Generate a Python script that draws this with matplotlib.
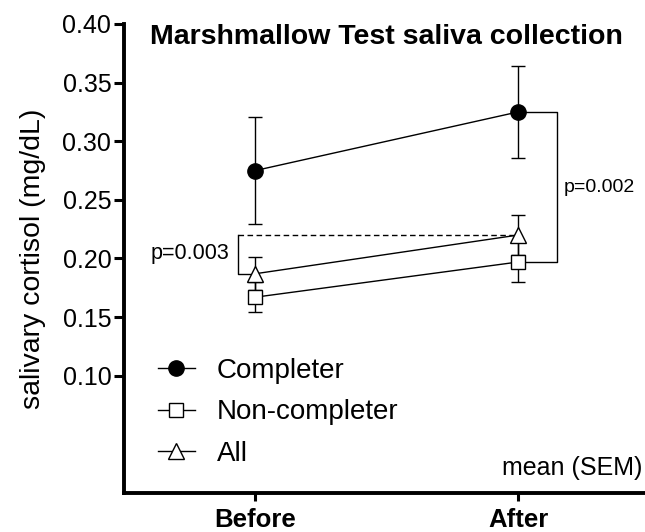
import matplotlib
matplotlib.use("Agg")
import matplotlib.pyplot as plt
from matplotlib.lines import Line2D

plt.rcParams['font.family'] = ['Liberation Sans', 'DejaVu Sans']

# data
timepoints = ["Before", "After"]
completer_mean = [0.275, 0.325]
completer_sem = [0.046, 0.039]
noncompleter_mean = [0.167, 0.197]
noncompleter_sem = [0.013, 0.017]
all_mean = [0.187, 0.220]
all_sem = [0.014, 0.017]

fig = plt.figure(figsize=(6.45, 5.32), dpi=100)
ax = fig.add_axes([0.192, 0.0733, 0.815, 0.8816])

x = [0, 1]
err_kw = dict(color="black", lw=1.0, capsize=5, capthick=1.0, elinewidth=1.0,
              mew=1.0, mec="black")
ax.errorbar(x, completer_mean, yerr=completer_sem, marker="o", ms=11,
            mfc="black", zorder=4, **err_kw)
ax.errorbar(x, noncompleter_mean, yerr=noncompleter_sem, marker="s", ms=10,
            mfc="white", zorder=4, **err_kw)
ax.errorbar(x, all_mean, yerr=all_sem, marker="^", ms=11,
            mfc="white", zorder=4, **err_kw)

# left bracket (p=0.003): dashed line from After "All" back to Before
bx = -0.065
ax.plot([bx, x[1]], [all_mean[1], all_mean[1]], color="black", lw=1.0,
        ls=(0, (4, 2.5)), zorder=2)
ax.plot([bx, bx, x[0]], [all_mean[1], all_mean[0], all_mean[0]],
        color="black", lw=1.0, zorder=2)
ax.text(bx - 0.035, 0.2045, "p=0.003", ha="right", va="center", fontsize=15.5)

# right bracket (p=0.002)
rx = 1.147
ax.plot([x[1], rx, rx, x[1]],
        [completer_mean[1], completer_mean[1], noncompleter_mean[1], noncompleter_mean[1]],
        color="black", lw=1.0, zorder=2)
ax.text(rx + 0.027, 0.2605, "p=0.002", ha="left", va="center", fontsize=14)

ax.set_xlim(-0.5, 1.5)
ax.set_ylim(0, 0.40)
yticks = [0.10, 0.15, 0.20, 0.25, 0.30, 0.35, 0.40]
ax.set_yticks(yticks)
ax.set_yticklabels([f"{v:.2f}" for v in yticks])
ax.set_xticks(x)
ax.set_xticklabels(timepoints, fontweight="bold", fontsize=18.5)
ax.tick_params(axis="y", labelsize=18, width=2.2, length=7, direction="out", pad=2)
ax.tick_params(axis="x", width=2.2, length=6, direction="out", pad=5)

for s in ["top", "right"]:
    ax.spines[s].set_visible(False)
for s in ["left", "bottom"]:
    ax.spines[s].set_linewidth(2.8)

ax.set_ylabel("salivary cortisol (mg/dL)", fontsize=20.5)
ax.yaxis.set_label_coords(-0.149, 0.499)

ax.text(0.05, 0.972, "Marshmallow Test saliva collection", transform=ax.transAxes,
        fontsize=20.5, fontweight="bold", ha="left", va="center")

handles = [
    Line2D([], [], color="black", lw=1.0, marker="o", ms=11, mfc="black", mec="black"),
    Line2D([], [], color="black", lw=1.0, marker="s", ms=10, mfc="white", mec="black"),
    Line2D([], [], color="black", lw=1.0, marker="^", ms=11, mfc="white", mec="black"),
]
ax.legend(handles, ["Completer", "Non-completer", "All"], loc="upper left",
          bbox_to_anchor=(0.0647, 0.288), frameon=False, fontsize=20,
          handlelength=1.33, handletextpad=0.8, labelspacing=0.56,
          borderpad=0, borderaxespad=0)

fig.text(642 / 645, 1 - 468 / 532, "mean (SEM)", ha="right", va="center", fontsize=18)

fig.savefig("out.png", dpi=100)
